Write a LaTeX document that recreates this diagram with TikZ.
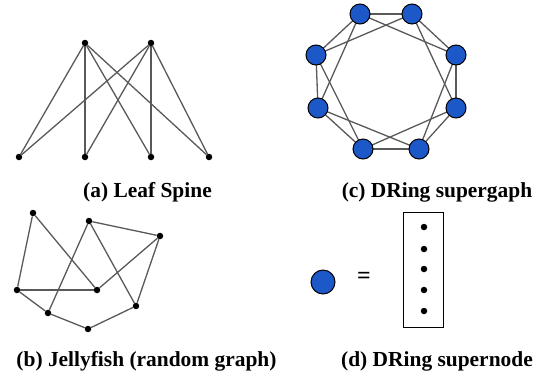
\documentclass[tikz,border=0pt]{standalone}
\usepackage{fontspec}
\setmainfont{Liberation Serif}
\usetikzlibrary{backgrounds}
\begin{document}
\begin{tikzpicture}[x=1bp,y=-1bp,
  edge/.style={draw=black!65,line width=1.3bp},
  dot/.style={circle,fill=black,inner sep=0pt,minimum size=6.5bp},
  super/.style={circle,draw=black,line width=1bp,fill=superblue,inner sep=0pt,minimum size=20bp},
  captext/.style={font=\bfseries\fontsize{21.5}{24}\selectfont,inner sep=0pt,anchor=base}]
\definecolor{superblue}{RGB}{28,88,200}
\useasboundingbox (0,0) rectangle (543,377);
% (a) Leaf spine
\node[dot] (t1) at (85,43) {};
\node[dot] (t2) at (151,43) {};
\node[dot] (b1) at (19,157) {};
\node[dot] (b2) at (85,157) {};
\node[dot] (b3) at (151,157) {};
\node[dot] (b4) at (209,157) {};
\foreach \t in {t1,t2}{\foreach \b in {b1,b2,b3,b4}{\draw[edge] (\t) -- (\b);}}
\node[captext] (la) at (147.5,197) {(a) Leaf Spine};
% (c) DRing supergraph
\node[super] (s1) at (360,14) {};
\node[super] (s2) at (412,14) {};
\node[super] (s3) at (456,55) {};
\node[super] (s4) at (456,108) {};
\node[super] (s5) at (419,149) {};
\node[super] (s6) at (363,149) {};
\node[super] (s7) at (318,108) {};
\node[super] (s8) at (316,55) {};
\begin{pgfonlayer}{background}
\foreach \u/\v in {s1/s2,s2/s3,s3/s4,s4/s5,s5/s6,s6/s7,s7/s8,s8/s1,
  s1/s3,s2/s4,s3/s5,s4/s6,s5/s7,s6/s8,s7/s1,s8/s2}{\draw[edge] (\u.center) -- (\v.center);}
\end{pgfonlayer}
\node[captext] (lc) at (437,197) {(c) DRing supergaph};
% (b) Jellyfish
\node[dot] (ja) at (33,213) {};
\node[dot] (jb) at (89,221) {};
\node[dot] (jc) at (160,236) {};
\node[dot] (jd) at (17,290) {};
\node[dot] (je) at (97,290) {};
\node[dot] (jf) at (136,306) {};
\node[dot] (jg) at (48,313) {};
\node[dot] (jh) at (88,329) {};
\foreach \u/\v in {ja/jd,ja/je,jb/jc,jb/jg,jb/jf,jc/je,jc/jf,jd/je,jd/jg,jg/jh,jh/jf}{\draw[edge] (\u) -- (\v);}
\node[captext] (lb) at (146.5,366) {(b) Jellyfish (random graph)};
% (d) supernode
\node[super,minimum size=24bp] (sn) at (323,282) {};
\node[font=\bfseries\fontsize{24}{24}\selectfont,inner sep=0pt] (eq) at (364,278) {=};
\node[draw=black,line width=1bp,minimum width=40bp,minimum height=115bp,inner sep=0pt] (box) at (423,269.5) {};
\foreach \i/\y in {1/227,2/249,3/269,4/290,5/311}{\node[dot] (d\i) at (424,\y) {};}
\node[captext] (ld) at (437,366) {(d) DRing supernode};
\end{tikzpicture}
\end{document}
